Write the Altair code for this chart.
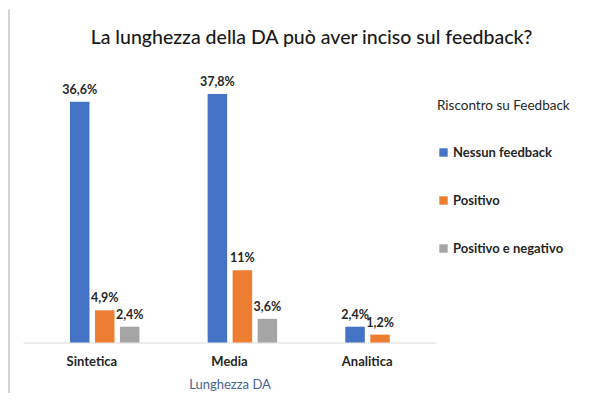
import altair as alt
import pandas as pd

categories = ["Sintetica", "Media", "Analitica"]
series = ["Nessun feedback", "Positivo", "Positivo e negativo"]
colors = ["#4472C4", "#ED7D31", "#A5A5A5"]

nessun_feedback = [36.6, 37.8, 2.4]
positivo = [4.9, 11.0, 1.2]
positivo_negativo = [2.4, 3.6, None]

lbl_nessun = ["36,6%", "37,8%", "2,4%"]
lbl_positivo = ["4,9%", "11%", "1,2%"]
lbl_posneg = ["2,4%", "3,6%", None]

rows = []
for s, vals, lbls in zip(series,
                         [nessun_feedback, positivo, positivo_negativo],
                         [lbl_nessun, lbl_positivo, lbl_posneg]):
    for c, v, l in zip(categories, vals, lbls):
        if v is not None:
            rows.append({"cat": c, "serie": s, "val": v, "lbl": l})
df = pd.DataFrame(rows)

FONT = "Lato"

x_enc = alt.X("cat:N", sort=categories,
              scale=alt.Scale(domain=categories, paddingInner=0, paddingOuter=0),
              axis=alt.Axis(title="Lunghezza DA", labelAngle=0, ticks=False,
                            domainColor="#D9D9D9", domainWidth=1,
                            labelFont=FONT, labelFontSize=13, labelFontWeight="bold",
                            labelColor="#262626", labelPadding=13,
                            titleFont=FONT, titleFontSize=13, titleFontWeight="normal",
                            titleColor="#44648F", titlePadding=10))
offset_domain = ["_pad"] + series
xoff_enc = alt.XOffset("serie:N",
                       scale=alt.Scale(domain=offset_domain, paddingInner=0.22,
                                       paddingOuter=0.864, align=0.509))
y_enc = alt.Y("val:Q", scale=alt.Scale(domain=[0, 40]), axis=None)

base = alt.Chart(df)

bars = base.mark_bar().encode(
    x=x_enc, xOffset=xoff_enc, y=y_enc,
    color=alt.Color("serie:N", sort=series,
                    scale=alt.Scale(domain=series, range=colors),
                    legend=alt.Legend(title="Riscontro su Feedback", orient="none",
                                      legendX=414, legendY=19,
                                      symbolType="square", symbolSize=70,
                                      symbolStrokeWidth=0,
                                      labelFont=FONT, labelFontSize=13,
                                      labelFontWeight="bold", labelColor="#262626",
                                      titleFont=FONT, titleFontSize=13.5,
                                      titleFontWeight="normal", titleColor="#262626",
                                      titlePadding=34, rowPadding=34, labelOffset=3))
)

texts = base.mark_text(dy=-12, font=FONT, fontSize=12.5, fontWeight="bold",
                       color="#262626").encode(
    x=x_enc, xOffset=xoff_enc, y=y_enc, text="lbl:N"
)

border = alt.Chart(pd.DataFrame({"a": [0]})).mark_rule(
    color="#A6A6A6", strokeWidth=1, clip=False
).encode(x=alt.value(-14), y=alt.value(-70), y2=alt.value(330))

chart = alt.layer(border, bars, texts).properties(
    width=413, height=263,
    autosize=alt.AutoSizeParams(type="none"),
    padding={"left": 15, "top": 71.5, "right": 164, "bottom": 50},
    title=alt.Title("La lunghezza della DA può aver inciso sul feedback?",
                    font=FONT, fontSize=19.5, fontWeight=500, color="#1A1A1A",
                    anchor="middle", dx=82, offset=-39),
).configure_view(stroke=None)

chart.save("out.html", embed_options={"renderer": "svg", "actions": False})
